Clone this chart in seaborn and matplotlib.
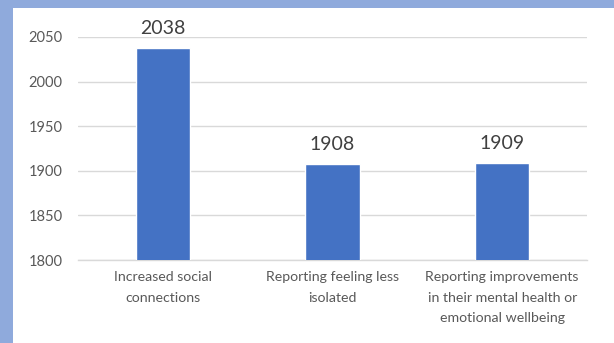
import matplotlib
matplotlib.use("Agg")
import matplotlib.pyplot as plt
import seaborn as sns
import pandas as pd

categories = ["Increased social\nconnections",
              "Reporting feeling less\nisolated",
              "Reporting improvements\nin their mental health or\nemotional wellbeing"]
values = [2038, 1908, 1909]
yticks = [1800, 1850, 1900, 1950, 2000, 2050]

sns.set_theme(style="white")
plt.rcParams['font.family'] = ['Lato', 'DejaVu Sans']

df = pd.DataFrame({"cat": categories, "val": values})

fig = plt.figure(figsize=(6.14, 3.43), dpi=100)
fig.patch.set_facecolor("#8FAADC")
# white panel
bg = fig.add_axes([13/614, 0, 1 - 13/614, 1 - 8/343])
bg.set_facecolor("white")
bg.set_xticks([]); bg.set_yticks([])
for s in bg.spines.values():
    s.set_visible(False)

ax = fig.add_axes([78/614, 1 - 260/343, (587 - 78)/614, (260 - 37)/343])
ax.set_facecolor("none")
sns.barplot(data=df, x="cat", y="val", color="#4472C4", saturation=1,
            width=0.32, ax=ax, zorder=3)
ax.set_ylim(1800, 2050)
ax.set_yticks(yticks)
ax.set_yticklabels([str(t) for t in yticks])
ax.yaxis.grid(True, color="#D9D9D9", linewidth=1.0, zorder=0)
ax.set_axisbelow(True)
for s in ["top", "right", "left"]:
    ax.spines[s].set_visible(False)
ax.spines["bottom"].set_color("#D9D9D9")
ax.spines["bottom"].set_linewidth(1.0)
ax.set_xlabel("")
ax.set_ylabel("")
ax.tick_params(axis="y", length=0, pad=11, labelsize=10.5, labelcolor="#595959")
ax.tick_params(axis="x", length=0, pad=8, labelsize=10.2, labelcolor="#595959")
for lbl in ax.get_xticklabels():
    lbl.set_linespacing(1.85)

for i, v in enumerate(values):
    ax.annotate(str(v), xy=(i, v), xytext=(0, 8), textcoords="offset points",
                ha="center", va="bottom", fontsize=14, color="#404040",
                annotation_clip=False)

fig.savefig("out.png", dpi=100, facecolor=fig.get_facecolor())
